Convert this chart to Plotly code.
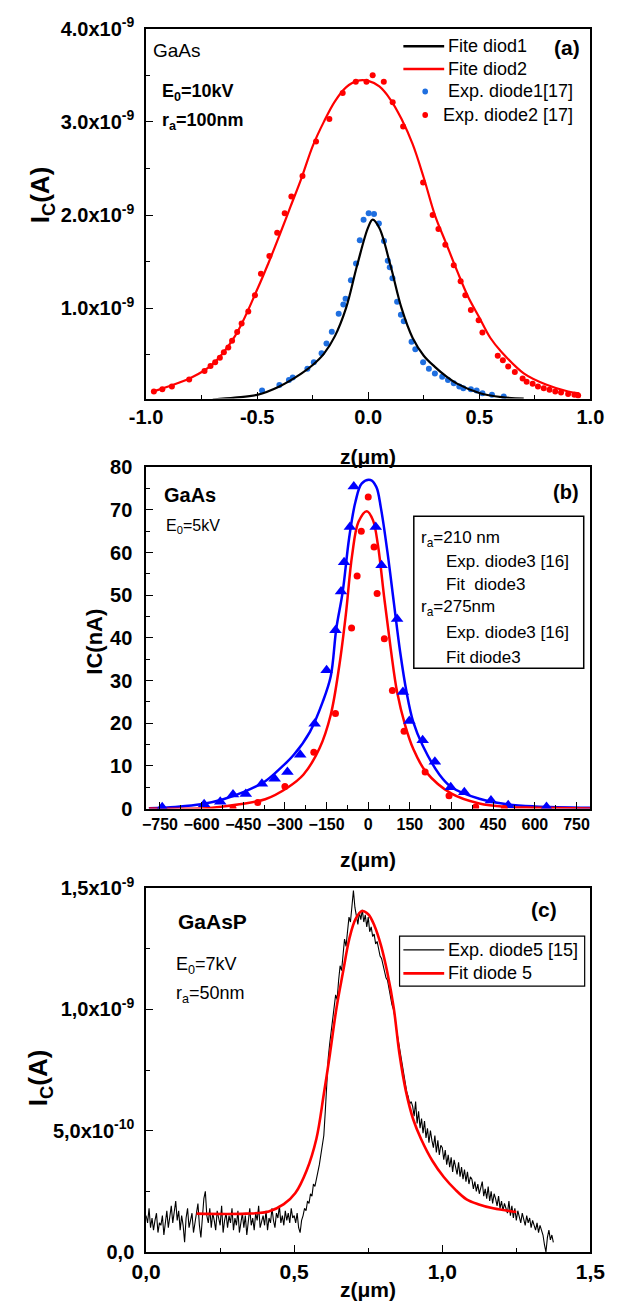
import numpy as np
import plotly.graph_objects as go

W, H = 631, 1314
FONT = "Arial, 'Liberation Sans', sans-serif"
RED = "#ff0000"
BLUE_A = "#1f6fe0"
BLUE_B = "#0000ff"

# ---------------- Panel (a) data (I in units of 1e-9 A, z in um) ----------------
a_fit1_z = [-0.70, -0.60, -0.50, -0.40, -0.30, -0.25, -0.20, -0.15, -0.10, -0.05, 0.00, 0.02,
            0.05, 0.10, 0.15, 0.20, 0.25, 0.30, 0.35, 0.40, 0.50, 0.60, 0.70]
a_fit1_i = [0.02, 0.04, 0.07, 0.16, 0.30, 0.39, 0.51, 0.70, 1.00, 1.46, 1.87, 1.95,
            1.86, 1.46, 1.00, 0.68, 0.49, 0.37, 0.27, 0.19, 0.09, 0.045, 0.03]

a_fit2_z = [-0.97, -0.90, -0.80, -0.70, -0.60, -0.50, -0.45, -0.40, -0.35, -0.30, -0.25, -0.20,
            -0.15, -0.10, -0.05, 0.00, 0.05, 0.10, 0.15, 0.20, 0.25, 0.30, 0.35, 0.40, 0.45,
            0.50, 0.55, 0.60, 0.70, 0.80, 0.90, 0.95]
a_fit2_i = [0.105, 0.16, 0.25, 0.40, 0.70, 1.20, 1.48, 1.78, 2.09, 2.40, 2.74, 3.00,
            3.22, 3.37, 3.44, 3.44, 3.38, 3.24, 3.03, 2.76, 2.40, 2.00, 1.70, 1.40, 1.12,
            0.90, 0.68, 0.53, 0.30, 0.18, 0.105, 0.085]

a_exp1_z = [-0.478, -0.40, -0.357, -0.34, -0.274, -0.245, -0.21, -0.188, -0.164, -0.133, -0.112,
            -0.102, -0.078, -0.055, -0.038, -0.021, 0.002, 0.026, 0.048, 0.071, 0.088, 0.097,
            0.109, 0.13, 0.147, 0.16, 0.195, 0.212, 0.247, 0.273, 0.30, 0.333, 0.359, 0.385,
            0.41, 0.428, 0.462, 0.488, 0.514, 0.557, 0.61]
a_exp1_i = [0.116, 0.175, 0.228, 0.256, 0.35, 0.42, 0.516, 0.62, 0.747, 0.94, 1.04,
            1.10, 1.30, 1.48, 1.73, 1.95, 2.02, 2.01, 1.91, 1.72, 1.51, 1.44,
            1.32, 1.07, 0.93, 0.86, 0.64, 0.56, 0.42, 0.35, 0.30, 0.263, 0.228, 0.193,
            0.158, 0.14, 0.13, 0.116, 0.088, 0.07, 0.053]

a_exp2_z = [-0.965, -0.927, -0.884, -0.806, -0.737, -0.71, -0.689, -0.668, -0.65, -0.63, -0.613,
            -0.59, -0.57, -0.54, -0.51, -0.483, -0.445, -0.41, -0.376, -0.346, -0.296,
            -0.235, -0.175, -0.115, -0.056, -0.008, 0.02, 0.07, 0.11, 0.157,
            0.247, 0.29, 0.316, 0.347, 0.385, 0.416, 0.437, 0.462, 0.497, 0.514, 0.583,
            0.606, 0.63, 0.66, 0.695, 0.713, 0.74, 0.764, 0.79, 0.816, 0.842, 0.868,
            0.90, 0.928, 0.945]
a_exp2_i = [0.105, 0.13, 0.158, 0.235, 0.326, 0.379, 0.42, 0.467, 0.526, 0.579, 0.649,
            0.744, 0.835, 0.965, 1.14, 1.37, 1.56, 1.81, 2.02, 2.20, 2.42,
            2.79, 3.03, 3.31, 3.43, 3.43, 3.50, 3.43, 3.21, 2.95,
            2.35, 2.00, 1.85, 1.68, 1.46, 1.29, 1.14, 0.98, 0.87, 0.74, 0.49,
            0.44, 0.375, 0.316, 0.246, 0.21, 0.19, 0.158, 0.14, 0.123, 0.105, 0.095,
            0.08, 0.07, 0.063]

a_yticks = [1e-9, 2e-9, 3e-9, 4e-9]
a_yticktext = ["1.0x10<sup>-9</sup>", "2.0x10<sup>-9</sup>", "3.0x10<sup>-9</sup>", "4.0x10<sup>-9</sup>"]
a_xticks = [-1.0, -0.5, 0.0, 0.5, 1.0]
a_xticktext = ["-1.0", "-0.5", "0.0", "0.5", "1.0"]
a_legend_labels = ["Fite diod1", "Fite diod2", "Exp. diode1[17]", "Exp. diode2 [17]"]

# ---------------- Panel (b) data (I in nA, z in um) ----------------
b_fit1_z = [-790, -695, -602, -522, -441, -371, -314, -268, -210, -164, -135, -115, -92, -69,
            -46, -23, 8, 29, 46, 69, 92, 115, 138, 162, 196, 256, 300, 400, 500, 600, 800]
b_fit1_i = [0.1, 0.4, 1.0, 2.2, 4.1, 6.4, 9.6, 12.6, 18.0, 25.0, 31.0, 42.2, 50.8, 63.3,
            71.9, 76.2, 77.0, 75.4, 70.3, 60.2, 48.4, 36.7, 27.3, 20.3, 14.8, 8.0, 5.0, 2.3, 1.0, 0.5, 0.2]

b_fit2_z = [-790, -579, -464, -371, -291, -233, -175, -135, -104, -81, -58, -35, -5, 17, 35,
            58, 81, 104, 133, 162, 208, 300, 400, 500, 600, 800]
b_fit2_i = [0.0, 0.1, 1.0, 2.2, 4.9, 8.0, 14.2, 22.0, 33.6, 45.3, 59.4, 67.2, 69.7, 67.6, 61.7,
            49.2, 37.5, 27.3, 19.5, 14.0, 8.6, 3.5, 1.2, 0.4, 0.2, 0.0]

b_exp1_z = [-742, -591, -533, -487, -441, -383, -337, -291, -245, -193, -150, -118, -98, -87,
            -66, -52, 27, 48, 104, 125, 148, 196, 240, 297, 346, 442, 504, 642]
b_exp1_i = [0.3, 1.0, 1.6, 3.3, 3.4, 5.8, 7.0, 8.6, 12.6, 19.9, 32.4, 41.8, 50.9, 57.7,
            66.0, 75.5, 66.0, 57.0, 44.4, 27.3, 20.5, 16.0, 11.0, 5.0, 3.8, 1.9, 0.8, 0.4]

b_exp2_z = [-487, -398, -300, -196, -118, -60, -40, -25, 0, 21, 32, 58, 87, 129, 205, 291, 387, 490]
b_exp2_i = [0.0, 1.4, 5.2, 13.2, 22.3, 42.3, 54.5, 65.0, 73.0, 61.3, 50.4, 39.8, 27.7, 18.1,
            8.6, 3.0, 0.4, 0.0]

b_xticks = [-750, -600, -450, -300, -150, 0, 150, 300, 450, 600, 750]
b_yticks = [0, 10, 20, 30, 40, 50, 60, 70, 80]
b_legend_labels = ["r<sub>a</sub>=210 nm", "Exp. diode3 [16]", "Fit  diode3",
                   "r<sub>a</sub>=275nm", "Exp. diode3 [16]", "Fit diode3"]

# ---------------- Panel (c) data (exp I in units of 1e-11 A, fit in 1e-9 A) ----------------
c_exp_i = [
    15, 12, 18, 10, 14, 9, 13, 16, 8, 12, 11, 15, 7, 13, 17, 10, 14, 19, 12, 16,
    21, 13, 17, 9, 15, 11, 4, 14, 18, 10, 13, 16, 8, 12, 15, 20, 11, 6, 14, 22,
    25, 15, 12, 18, 10, 16, 13, 9, 17, 14, 11, 19, 8, 13, 16, 10, 15, 12, 18, 9,
    14, 11, 17, 8, 13, 16, 10, 15, 7, 12, 18, 11, 14, 9, 16, 13, 19, 10, 12, 15,
    11, 17, 9, 14, 12, 18, 13, 10, 16, 14, 19, 12, 15, 11, 17, 13, 16, 12, 18, 14,
    15, 12, 16, 10, 8, 13, 15, 18, 17, 21, 20, 24, 23, 28, 27, 31, 33, 36, 40, 44,
    48, 58, 70, 80, 86, 92, 96, 101, 106, 104, 112, 118, 116, 124, 129, 126, 133, 138, 136, 143,
    149, 142, 138, 135, 140, 137, 141, 136, 139, 134, 138, 132, 134, 130, 131, 127, 128, 124, 122, 121,
    118, 116, 113, 112, 108, 106, 102, 100, 97, 92, 88, 86, 80, 77, 72, 70, 66, 64, 61, 62,
    60, 56, 62, 53, 58, 51, 55, 49, 54, 47, 51, 45, 50, 46, 43, 48, 41, 46, 40, 44,
    43, 38, 42, 36, 40, 35, 39, 33, 38, 35, 32, 37, 31, 35, 30, 34, 29, 33, 28, 31,
    30, 26, 29, 25, 28, 24, 27, 29, 23, 26, 22, 27, 21, 25, 20, 24, 22, 19, 23, 18,
    21, 17, 20, 18, 16, 21, 15, 19, 14, 18, 13, 17, 15, 12, 16, 13, 11, 15, 12, 14,
    10, 13, 11, 9, 12, 8, 11, 9, 7, 3, 0, 6, 9, 5, 7, 4,
]
c_exp_step = 0.005
c_exp_z = list(np.round(np.arange(len(c_exp_i)) * c_exp_step, 4))

c_fit_z = [0.17, 0.337, 0.414, 0.465, 0.504, 0.542, 0.575, 0.60, 0.62, 0.643, 0.665, 0.686,
           0.707, 0.729, 0.75, 0.771, 0.793, 0.814, 0.836, 0.855, 0.877, 0.902, 0.928, 0.967,
           1.005, 1.044, 1.082, 1.121, 1.172, 1.236, 1.25]
c_fit_i = [0.158, 0.158, 0.167, 0.197, 0.243, 0.336, 0.467, 0.651, 0.81, 1.007, 1.155, 1.29,
           1.372, 1.405, 1.392, 1.345, 1.264, 1.155, 1.007, 0.82, 0.664, 0.546, 0.467, 0.375,
           0.309, 0.257, 0.217, 0.197, 0.18, 0.167, 0.165]

c_xticks = [0.0, 0.5, 1.0, 1.5]
c_xticktext = ["0,0", "0,5", "1,0", "1,5"]
c_yticks = [0.0, 5e-10, 1e-9, 1.5e-9]
c_yticktext = ["0,0", "5,0x10<sup>-10</sup>", "1,0x10<sup>-9</sup>", "1,5x10<sup>-9</sup>"]
c_legend_labels = ["Exp. diode5 [15]", "Fit diode 5"]


def px(x):
    return x / W


def py(y):
    return 1 - y / H


fig = go.Figure()

# Panel (a)
fig.add_trace(go.Scatter(x=a_exp1_z, y=[v * 1e-9 for v in a_exp1_i], mode="markers",
                         marker=dict(color=BLUE_A, size=6), name=a_legend_labels[2],
                         xaxis="x", yaxis="y", showlegend=False))
fig.add_trace(go.Scatter(x=a_exp2_z, y=[v * 1e-9 for v in a_exp2_i], mode="markers",
                         marker=dict(color=RED, size=6), name=a_legend_labels[3],
                         xaxis="x", yaxis="y", showlegend=False))
fig.add_trace(go.Scatter(x=a_fit1_z, y=[v * 1e-9 for v in a_fit1_i], mode="lines",
                         line=dict(color="black", width=2.2, shape="spline"), name=a_legend_labels[0],
                         xaxis="x", yaxis="y", showlegend=False))
fig.add_trace(go.Scatter(x=a_fit2_z, y=[v * 1e-9 for v in a_fit2_i], mode="lines",
                         line=dict(color=RED, width=2.2, shape="spline"), name=a_legend_labels[1],
                         xaxis="x", yaxis="y", showlegend=False))

# Panel (b)
fig.add_trace(go.Scatter(x=b_fit1_z, y=b_fit1_i, mode="lines",
                         line=dict(color=BLUE_B, width=2.5, shape="spline"), showlegend=False,
                         xaxis="x2", yaxis="y2"))
fig.add_trace(go.Scatter(x=b_fit2_z, y=b_fit2_i, mode="lines",
                         line=dict(color=RED, width=2.5, shape="spline"), showlegend=False,
                         xaxis="x2", yaxis="y2"))
fig.add_trace(go.Scatter(x=b_exp1_z, y=b_exp1_i, mode="markers",
                         marker=dict(color=BLUE_B, size=11, symbol="triangle-up"), showlegend=False,
                         xaxis="x2", yaxis="y2"))
fig.add_trace(go.Scatter(x=b_exp2_z, y=b_exp2_i, mode="markers",
                         marker=dict(color=RED, size=7), showlegend=False,
                         xaxis="x2", yaxis="y2"))

# Panel (c)
fig.add_trace(go.Scatter(x=c_exp_z, y=[v * 1e-11 for v in c_exp_i], mode="lines",
                         line=dict(color="black", width=1.1), name=c_legend_labels[0],
                         xaxis="x3", yaxis="y3", showlegend=False))
fig.add_trace(go.Scatter(x=c_fit_z, y=[v * 1e-9 for v in c_fit_i], mode="lines",
                         line=dict(color=RED, width=2.6, shape="spline"), name=c_legend_labels[1],
                         xaxis="x3", yaxis="y3", showlegend=False))

XDOM = [px(136), px(604)]


def tf(size, bold=True):
    return dict(family=FONT, size=size, color="black", weight="bold" if bold else "normal")


def minor(dt):
    return dict(tickmode="linear", tick0=0, dtick=dt, ticks="inside", ticklen=4,
                tickcolor="black", tickwidth=1.2)


def axis_common(**kw):
    d = dict(showline=True, linecolor="black", linewidth=1.6, mirror=True,
             ticks="inside", ticklen=7, tickwidth=1.4, tickcolor="black",
             showgrid=False, zeroline=False, tickfont=tf(20), tickmode="array")
    d.update(kw)
    return d


fig.update_layout(
    width=W, height=H,
    margin=dict(l=0, r=0, t=0, b=0),
    paper_bgcolor="white", plot_bgcolor="white",
    font=dict(family=FONT, color="black"),
    showlegend=False,
    xaxis=axis_common(domain=XDOM, range=[-1.0, 1.0], tickvals=a_xticks, ticktext=a_xticktext,
                      anchor="y", minor=minor(0.25)),
    yaxis=axis_common(domain=[py(392), py(15)], range=[0.03e-9, 4.0e-9], tickvals=a_yticks,
                      ticktext=a_yticktext, anchor="x", ticklabelstandoff=6, minor=minor(0.5e-9)),
    xaxis2=axis_common(domain=XDOM, range=[-800, 800], tickvals=b_xticks, anchor="y2",
                       tickfont=tf(16), minor=minor(75)),
    yaxis2=axis_common(domain=[py(810), py(462)], range=[0, 80], tickvals=b_yticks, anchor="x2",
                       tickfont=tf(20), ticklabelstandoff=8, minor=minor(5)),
    xaxis3=axis_common(domain=XDOM, range=[0, 1.5], tickvals=c_xticks, ticktext=c_xticktext,
                       anchor="y3", tickfont=tf(21), minor=minor(0.25)),
    yaxis3=axis_common(domain=[py(1262), py(891)], range=[0, 1.5e-9], tickvals=c_yticks,
                       ticktext=c_yticktext, anchor="x3", ticklabelstandoff=6, minor=minor(0.25e-9)),
)

annotations = []
shapes = []
DX = -5  # small correction for annotation left padding


def ann(text, x, y, size, bold=False, xanchor="left", angle=0):
    if xanchor == "left":
        x = x + DX
    annotations.append(dict(text=text, x=px(x), y=py(y), xref="paper", yref="paper",
                            xanchor=xanchor, yanchor="middle", showarrow=False, textangle=angle,
                            font=tf(size, bold)))


def hline(x0, x1, y, color, width):
    shapes.append(dict(type="line", xref="paper", yref="paper", x0=px(x0), x1=px(x1),
                       y0=py(y), y1=py(y), line=dict(color=color, width=width)))


def dot(x, y, r, color):
    shapes.append(dict(type="circle", xref="paper", yref="paper", x0=px(x - r), x1=px(x + r),
                       y0=py(y + r), y1=py(y - r), fillcolor=color, line=dict(width=0)))


# Panel (a) texts
ann("GaAs", 146, 37, 19)
ann("E<sub>0</sub>=10kV", 156, 80, 18, bold=True)
ann("r<sub>a</sub>=100nm", 156, 110, 18, bold=True)
ann("(a)", 579, 34, 21, bold=True, xanchor="center")
ann("I<sub>C</sub>(A)", 26, 185, 26, bold=True, xanchor="center", angle=-90)
ann("z(μm)", 370, 451, 21, bold=True, xanchor="center")
# Panel (a) legend
hline(407, 450, 33, "black", 2.5)
hline(407, 450, 56, RED, 2.5)
dot(430, 79, 3, BLUE_A)
dot(430, 103, 3, RED)
ann(a_legend_labels[0], 457, 33, 18)
ann(a_legend_labels[1], 457, 56, 18)
ann(a_legend_labels[2], 457, 79, 18)
ann(a_legend_labels[3], 452, 103, 18)

# Panel (b) texts
ann("GaAs", 158, 490, 20, bold=True)
ann("E<sub>0</sub>=5kV", 160, 522, 16)
ann("(b)", 578, 487, 20, bold=True, xanchor="center")
ann("IC(nA)", 82, 640, 22, bold=True, xanchor="center", angle=-90)
ann("z(μm)", 370, 862, 21, bold=True, xanchor="center")
b_leg_x = [428, 455, 455, 428, 455, 455]
b_leg_y = [535, 558, 582, 606, 631, 656]
for lab, lx, ly in zip(b_legend_labels, b_leg_x, b_leg_y):
    ann(lab, lx, ly, 17)
shapes.append(dict(type="rect", xref="paper", yref="paper", x0=px(418), x1=px(597),
                   y0=py(667), y1=py(512), line=dict(color="black", width=1.5)))

# Panel (c) texts
ann("GaAsP", 172, 925, 21, bold=True)
ann("E<sub>0</sub>=7kV", 170, 970, 18)
ann("r<sub>a</sub>=50nm", 170, 1000, 18)
ann("(c)", 555, 913, 21, bold=True, xanchor="center")
ann("I<sub>C</sub>(A)", 24, 1085, 26, bold=True, xanchor="center", angle=-90)
ann("z(μm)", 370, 1300, 21, bold=True, xanchor="center")
# Panel (c) legend
shapes.append(dict(type="rect", xref="paper", yref="paper", x0=px(403), x1=px(598),
                   y0=py(991), y1=py(940), line=dict(color="black", width=1.2),
                   fillcolor="white", layer="above"))
hline(407, 450, 954, "black", 1.2)
hline(407, 450, 978, RED, 2.6)
ann(c_legend_labels[0], 457, 954, 18)
ann(c_legend_labels[1], 457, 978, 18)

fig.update_layout(annotations=annotations, shapes=shapes)

fig.write_html("out.html")
